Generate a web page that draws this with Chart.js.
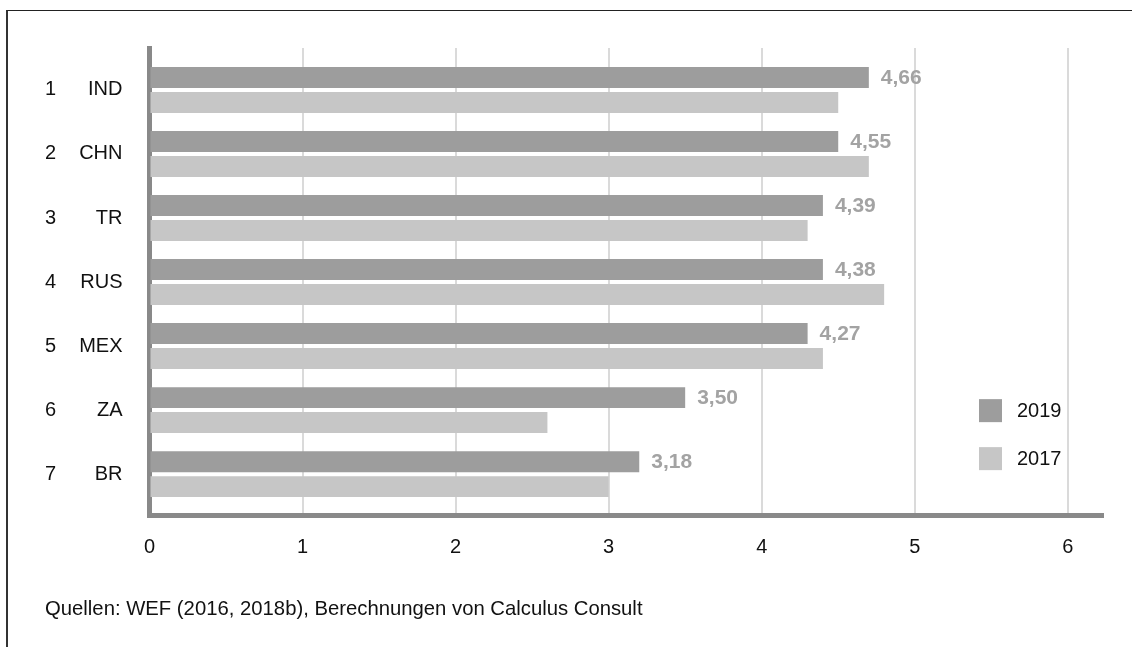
<!DOCTYPE html>
<html lang="de">
<head>
<meta charset="utf-8">
<title>Ranking 2019 / 2017</title>
<script src="https://cdn.jsdelivr.net/npm/chart.js@4.4.1/dist/chart.umd.min.js"></script>
<style>
  html, body { margin: 0; padding: 0; background: #fff; }
  #wrap { position: relative; width: 1132px; height: 647px; overflow: hidden; }
  #frame { position: absolute; left: 6px; top: 10px; right: 0; bottom: 0;
           border-top: 1px solid #222; border-left: 2px solid #333; pointer-events: none; }
  canvas { position: absolute; left: 0; top: 0; }
</style>
</head>
<body>
<div id="wrap">
  <canvas id="chart" width="1132" height="647"></canvas>
  <div id="frame"></div>
</div>
<script>
// data
const ranks = ["1", "2", "3", "4", "5", "6", "7"];
const countries = ["IND", "CHN", "TR", "RUS", "MEX", "ZA", "BR"];
const seriesNames = ["2019", "2017"];
const values2019 = [4.7, 4.5, 4.4, 4.4, 4.3, 3.5, 3.2];
const values2017 = [4.5, 4.7, 4.3, 4.8, 4.4, 2.6, 3.0];
const printed2019 = [4.66, 4.55, 4.39, 4.38, 4.27, 3.50, 3.18];
const xTicks = [0, 1, 2, 3, 4, 5, 6];
const sourceNote = "Quellen: WEF (2016, 2018b), Berechnungen von Calculus Consult";

const FONT = '"Liberation Sans", Arial, sans-serif';
Chart.defaults.font.family = FONT;
Chart.defaults.font.size = 20;
Chart.defaults.color = '#111';

// bold grey numbers behind the 2019 bars
const valueLabels = {
  id: 'valueLabels',
  afterDatasetsDraw(chart) {
    const ctx = chart.ctx;
    const meta = chart.getDatasetMeta(0);
    ctx.save();
    ctx.font = 'bold 21px ' + FONT;
    ctx.fillStyle = '#a3a3a3';
    ctx.textAlign = 'left';
    ctx.textBaseline = 'middle';
    meta.data.forEach((bar, i) => {
      ctx.fillText(printed2019[i].toFixed(2).replace('.', ','), bar.x + 12, bar.y + 1);
    });
    ctx.restore();
  }
};

// legend inside the plot, lower right
const sideLegend = {
  id: 'sideLegend',
  afterDraw(chart) {
    const { ctx, chartArea } = chart;
    ctx.save();
    ctx.font = '20px ' + FONT;
    ctx.textAlign = 'left';
    ctx.textBaseline = 'middle';
    chart.data.datasets.forEach((ds, i) => {
      const cy = chartArea.bottom - 105 + i * 48;
      ctx.fillStyle = ds.backgroundColor;
      ctx.fillRect(chartArea.right - 124, cy - 11.5, 23, 23);
      ctx.fillStyle = '#111';
      ctx.fillText(ds.label, chartArea.right - 86, cy + 1);
    });
    ctx.restore();
  }
};

const yRange = { min: -0.655, max: 6.648 };

new Chart(document.getElementById('chart'), {
  type: 'bar',
  data: {
    datasets: [
      {
        label: seriesNames[0],
        data: values2019.map((v, i) => ({ x: v, y: i })),
        backgroundColor: '#9d9d9d'
      },
      {
        label: seriesNames[1],
        data: values2017.map((v, i) => ({ x: v, y: i })),
        backgroundColor: '#c6c6c6'
      }
    ]
  },
  options: {
    indexAxis: 'y',
    responsive: false,
    animation: false,
    categoryPercentage: 0.78,
    barPercentage: 0.84,
    layout: { padding: { left: 45, right: 29, top: 48, bottom: 25 } },
    plugins: {
      legend: { display: false },
      tooltip: { enabled: false },
      title: {
        display: true,
        text: sourceNote,
        position: 'bottom',
        align: 'start',
        color: '#111',
        font: { size: 20.3, weight: 'normal' },
        padding: 0
      }
    },
    scales: {
      x: {
        type: 'linear',
        min: 0,
        max: 6.23,
        afterBuildTicks: s => { s.ticks = xTicks.map(v => ({ value: v })); },
        afterFit: s => { s.height = 82; },
        ticks: { padding: 20, color: '#111', font: { size: 20 } },
        grid: {
          drawTicks: false,
          lineWidth: 2,
          color: c => (c.tick && c.tick.value === 0) ? 'rgba(0,0,0,0)' : '#dadada'
        },
        border: { color: '#898989', width: 5 }
      },
      y: {
        type: 'linear',
        axis: 'y',
        position: 'left',
        weight: 0,
        reverse: true,
        offset: false,
        min: yRange.min,
        max: yRange.max,
        afterBuildTicks: s => { s.ticks = countries.map((c, i) => ({ value: i })); },
        afterFit: s => { s.width = 79.5; },
        ticks: { padding: 27, color: '#111', callback: v => countries[v] },
        grid: { display: false, drawTicks: false, offset: false },
        border: { color: '#898989', width: 5 }
      },
      yRank: {
        type: 'linear',
        axis: 'y',
        position: 'left',
        weight: 1,
        reverse: true,
        offset: false,
        min: yRange.min,
        max: yRange.max,
        afterBuildTicks: s => { s.ticks = ranks.map((r, i) => ({ value: i })); },
        afterFit: s => { s.width = 25; },
        ticks: { crossAlign: 'far', padding: 0, color: '#111', callback: v => ranks[v] },
        grid: { display: false, drawTicks: false },
        border: { display: false }
      }
    }
  },
  plugins: [valueLabels, sideLegend]
});
</script>
</body>
</html>
